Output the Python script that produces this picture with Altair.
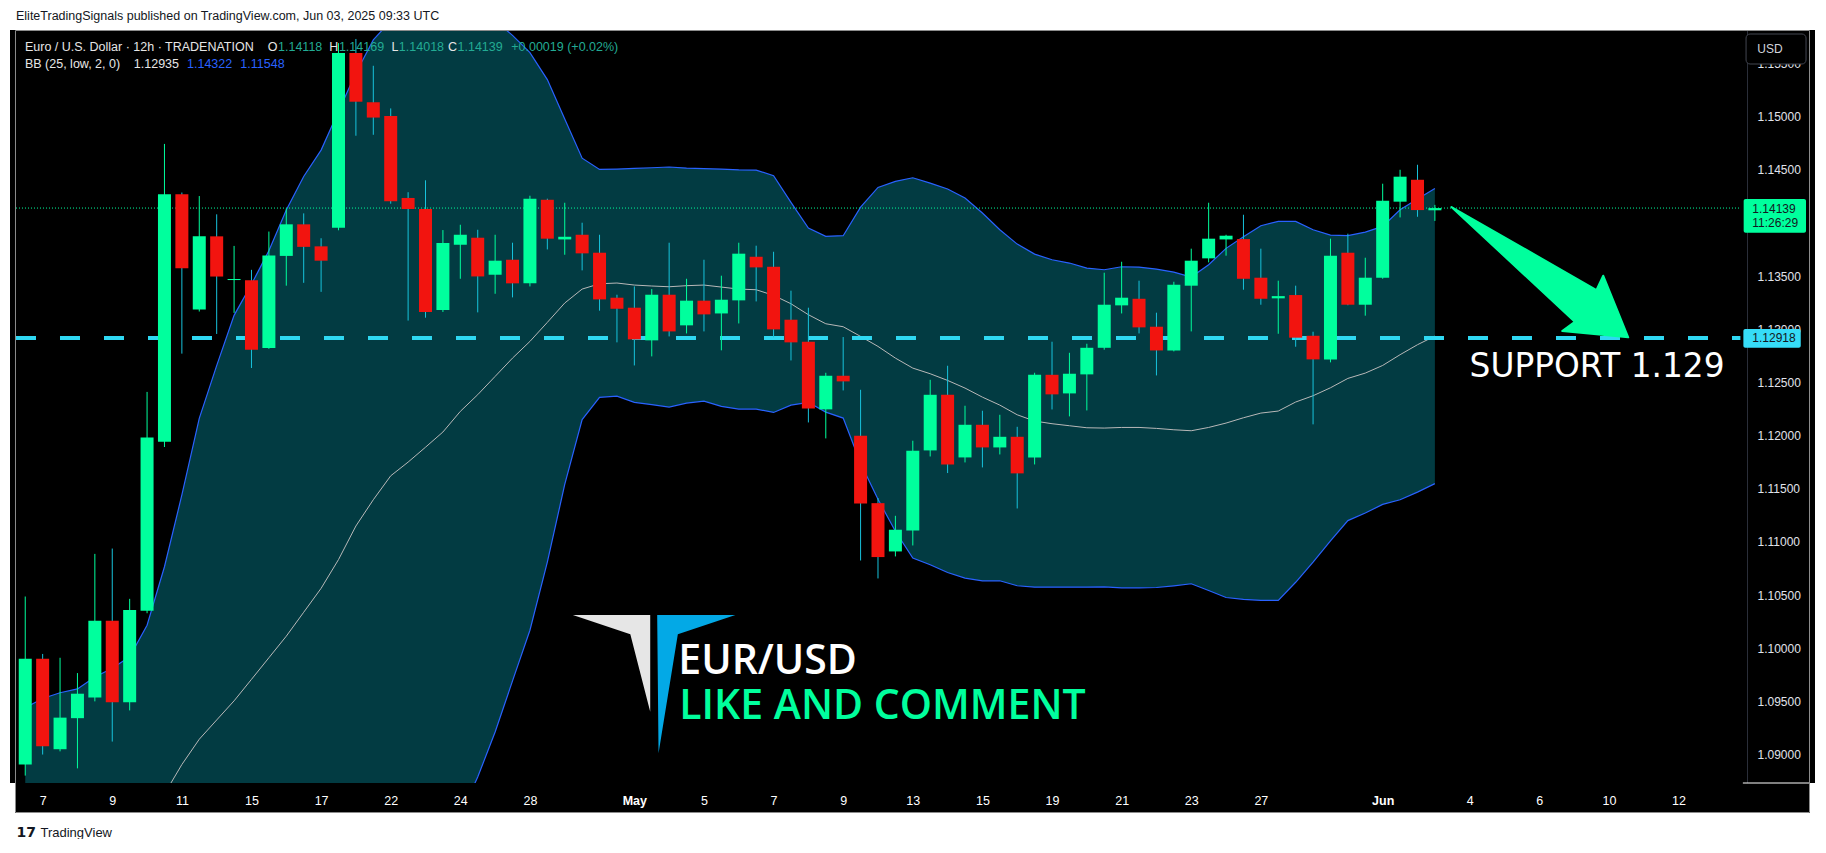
import altair as alt
import pandas as pd

# ----------------------------- data -----------------------------
opens = [
    1.08906, 1.09901, 1.09050, 1.09342, 1.09536, 1.10257, 1.09491, 1.10351, 1.11941, 1.14270,
    1.13184, 1.13873, 1.13462, 1.13459, 1.12824, 1.13689, 1.13986, 1.13779, 1.13954, 1.15597,
    1.15134, 1.15004, 1.14234, 1.14130, 1.13180, 1.13794, 1.13860, 1.13512, 1.13653, 1.13431,
    1.14217, 1.13844, 1.13888, 1.13719, 1.13296, 1.13202, 1.12895, 1.13324, 1.13036, 1.13268,
    1.13148, 1.13271, 1.13681, 1.13587, 1.13089, 1.12882, 1.12246, 1.12562, 1.11998, 1.11364,
    1.10910, 1.11107, 1.11860, 1.12383, 1.11794, 1.12101, 1.11888, 1.11988, 1.11794, 1.12571,
    1.12396, 1.12575, 1.12825, 1.13224, 1.13286, 1.13023, 1.12800, 1.13409, 1.13666, 1.13844,
    1.13847, 1.13484, 1.13290, 1.13321, 1.12938, 1.12716, 1.13719, 1.13230, 1.13484, 1.14199,
    1.14405, 1.14118]
closes = [
    1.09901, 1.09077, 1.09347, 1.09572, 1.10257, 1.09491, 1.10360, 1.11982, 1.14270, 1.13572,
    1.13873, 1.13495, 1.13472, 1.12806, 1.13693, 1.13986, 1.13774, 1.13644, 1.15597, 1.15139,
    1.14990, 1.14202, 1.14130, 1.13162, 1.13810, 1.13888, 1.13496, 1.13644, 1.13431, 1.14227,
    1.13851, 1.13869, 1.13713, 1.13280, 1.13192, 1.12904, 1.13324, 1.12979, 1.13268, 1.13139,
    1.13277, 1.13710, 1.13581, 1.12998, 1.12876, 1.12255, 1.12562, 1.12509, 1.11361, 1.10857,
    1.11114, 1.11857, 1.12383, 1.11728, 1.12101, 1.11888, 1.11988, 1.11644, 1.12571, 1.12387,
    1.12581, 1.12825, 1.13230, 1.13296, 1.13017, 1.12800, 1.13418, 1.13644, 1.13851, 1.13879,
    1.13474, 1.13286, 1.13311, 1.12920, 1.12716, 1.13691, 1.13230, 1.13484, 1.14208, 1.14434,
    1.14120, 1.14139]
highs = [
    1.10486, 1.09946, 1.09910, 1.09766, 1.10887, 1.10937, 1.10464, 1.12410, 1.14742, 1.14285,
    1.14252, 1.14080, 1.13783, 1.13558, 1.13918, 1.14135, 1.14089, 1.13855, 1.15690, 1.15729,
    1.15477, 1.15076, 1.14288, 1.14400, 1.13932, 1.13982, 1.13935, 1.13888, 1.13813, 1.14255,
    1.14227, 1.14189, 1.14001, 1.13888, 1.13324, 1.13402, 1.13377, 1.13813, 1.13474, 1.13653,
    1.13503, 1.13813, 1.13785, 1.13728, 1.13362, 1.13202, 1.12590, 1.12926, 1.12430, 1.11412,
    1.11245, 1.11951, 1.12524, 1.12656, 1.12280, 1.12233, 1.12195, 1.12082, 1.12590, 1.12882,
    1.12778, 1.12863, 1.13531, 1.13634, 1.13456, 1.13155, 1.13446, 1.13757, 1.14189, 1.13888,
    1.14076, 1.13757, 1.13456, 1.13409, 1.12976, 1.13851, 1.13898, 1.13672, 1.14368, 1.14499,
    1.14546, 1.14169]
lows = [
    1.08802, 1.09000, 1.09030, 1.08870, 1.09500, 1.09122, 1.09415, 1.10329, 1.11892, 1.12770,
    1.13166, 1.12955, 1.13153, 1.12635, 1.12815, 1.13409, 1.13436, 1.13351, 1.13930, 1.14819,
    1.14828, 1.14180, 1.13081, 1.13108, 1.13162, 1.13474, 1.13158, 1.13333, 1.13299, 1.13402,
    1.13750, 1.13700, 1.13553, 1.13174, 1.12876, 1.12659, 1.12744, 1.12932, 1.12960, 1.12979,
    1.12801, 1.13054, 1.13261, 1.12923, 1.12706, 1.12123, 1.11973, 1.12424, 1.10825, 1.10656,
    1.10863, 1.10966, 1.11803, 1.11647, 1.11747, 1.11700, 1.11822, 1.11314, 1.11728, 1.12245,
    1.12180, 1.12236, 1.12807, 1.13148, 1.12960, 1.12565, 1.12791, 1.12979, 1.13628, 1.13691,
    1.13371, 1.13230, 1.12957, 1.12835, 1.12105, 1.12688, 1.13225, 1.13127, 1.13474, 1.14051,
    1.14057, 1.14018]

bb_upper = [
    1.09440, 1.09527, 1.09581, 1.09617, 1.09730, 1.09811, 1.09919, 1.10216, 1.10766, 1.11441,
    1.12162, 1.12657, 1.13130, 1.13423, 1.13738, 1.14121, 1.14436, 1.14684, 1.15050, 1.15410,
    1.15720, 1.15900, 1.16000, 1.16050, 1.16050, 1.16020, 1.15980, 1.15900, 1.15763, 1.15601,
    1.15347, 1.14977, 1.14608, 1.14502, 1.14506, 1.14512, 1.14518, 1.14525, 1.14515, 1.14509,
    1.14506, 1.14499, 1.14496, 1.14443, 1.14192, 1.13951, 1.13873, 1.13879, 1.14148, 1.14333,
    1.14390, 1.14424, 1.14374, 1.14318, 1.14233, 1.14092, 1.13935, 1.13800, 1.13706, 1.13653,
    1.13622, 1.13575, 1.13559, 1.13587, 1.13584, 1.13565, 1.13537, 1.13490, 1.13606, 1.13760,
    1.13870, 1.13973, 1.14014, 1.14014, 1.13935, 1.13885, 1.13879, 1.13913, 1.13967, 1.14123,
    1.14224, 1.14322]
bb_basis = [
    1.08000, 1.08030, 1.08080, 1.08130, 1.08200, 1.08280, 1.08380, 1.08500, 1.08630, 1.08906,
    1.09144, 1.09325, 1.09505, 1.09707, 1.09910, 1.10113, 1.10338, 1.10563, 1.10833, 1.11149,
    1.11396, 1.11621, 1.11750, 1.11890, 1.12033, 1.12227, 1.12384, 1.12556, 1.12728, 1.12885,
    1.13064, 1.13246, 1.13377, 1.13427, 1.13434, 1.13415, 1.13406, 1.13399, 1.13409, 1.13415,
    1.13396, 1.13377, 1.13371, 1.13318, 1.13239, 1.13136, 1.13051, 1.13023, 1.12932, 1.12838,
    1.12728, 1.12634, 1.12581, 1.12518, 1.12446, 1.12361, 1.12286, 1.12195, 1.12136, 1.12111,
    1.12092, 1.12073, 1.12070, 1.12076, 1.12076, 1.12067, 1.12054, 1.12045, 1.12076, 1.12117,
    1.12167, 1.12211, 1.12230, 1.12315, 1.12374, 1.12449, 1.12537, 1.12587, 1.12659, 1.12760,
    1.12854, 1.12935]
bb_lower = [
    1.06560, 1.06533, 1.06579, 1.06643, 1.06670, 1.06749, 1.06841, 1.06784, 1.06494, 1.06371,
    1.06126, 1.05993, 1.05880, 1.05991, 1.06082, 1.06105, 1.06240, 1.06442, 1.06616, 1.06888,
    1.07072, 1.07342, 1.07500, 1.07730, 1.08016, 1.08434, 1.08788, 1.09212, 1.09693, 1.10169,
    1.10810, 1.11540, 1.12150, 1.12359, 1.12371, 1.12312, 1.12290, 1.12268, 1.12305, 1.12324,
    1.12274, 1.12249, 1.12249, 1.12217, 1.12286, 1.12312, 1.12220, 1.12164, 1.11740, 1.11400,
    1.11100, 1.10847, 1.10785, 1.10712, 1.10659, 1.10634, 1.10634, 1.10587, 1.10574, 1.10574,
    1.10574, 1.10574, 1.10577, 1.10568, 1.10568, 1.10571, 1.10587, 1.10606, 1.10543, 1.10477,
    1.10460, 1.10450, 1.10450, 1.10620, 1.10810, 1.11010, 1.11200, 1.11271, 1.11352, 1.11396,
    1.11468, 1.11548]

tick_index = [1, 5, 9, 13, 17, 21, 25, 29, 35, 39, 43, 47, 51, 55, 59, 63, 67, 71, 78, 83, 87, 91, 95]
tick_text = ["7", "9", "11", "15", "17", "22", "24", "28", "May", "5", "7", "9", "13", "15",
             "19", "21", "23", "27", "Jun", "4", "6", "10", "12"]
price_ticks = [1.090, 1.095, 1.100, 1.105, 1.110, 1.115, 1.120, 1.125, 1.130, 1.135,
               1.140, 1.145, 1.150, 1.155]
support_level = 1.12918
countdown = "11:26:29"
symbol_name = "Euro / U.S. Dollar · 12h · TRADENATION"
bb_name = "BB (25, low, 2, 0)"
publish_note = "EliteTradingSignals published on TradingView.com, Jun 03, 2025 09:33 UTC"

# ----------------------------- styling / layout -----------------------------
GREEN = "#00ff9d"
RED = "#f2140f"
CYAN_WICK = "#17c3dc"
BAND = "#023b42"
BLUE = "#2962ff"
SUPPORT_C = "#2fd8f2"
TEAL_TXT = "#22ab94"
WHITE_TXT = "#e6e6e6"

W, H = 1805, 753          # panel width, plot height


def X(px):   # page pixel -> candle index units
    return (px - 20.3) / 17.5


def Y(py):   # page pixel -> price units
    return 1.15 - (py - 116.5) / 10634.0


x_scale = alt.Scale(domain=[X(10), X(1815)], nice=False, zero=False)
y_scale = alt.Scale(domain=[Y(783), Y(30)], nice=False, zero=False)

label_expr = " : ".join(f"datum.value == {i} ? '{t}'" for i, t in zip(tick_index, tick_text)) + " : ''"
bold_test = " || ".join(f"datum.value == {i}" for i, t in zip(tick_index, tick_text) if t.isalpha())

x_axis = alt.Axis(values=tick_index, labelExpr=label_expr, title=None, grid=False, domain=False,
                  ticks=False, labelPadding=17, labelBaseline="middle", labelColor="#ffffff",
                  labelFont="Liberation Sans", labelFontSize=12.5,
                  labelFontWeight={"condition": {"test": bold_test, "value": "bold"}, "value": "normal"},
                  labelFlush=False, labelOverlap=False, labelBound=False, zindex=1, orient="bottom")
y_axis = alt.Axis(values=price_ticks, format=".5f", orient="right", offset=-68, title=None,
                  grid=False, ticks=False, domain=True, domainColor="#2a2e39", labelPadding=10,
                  labelAlign="left", labelBaseline="middle", labelColor="#e0e3eb",
                  labelFont="Liberation Sans", labelFontSize=12, labelFlush=False,
                  labelOverlap=False, labelBound=False, zindex=0)


def ex(field):
    return alt.X(field, type="quantitative", scale=x_scale, axis=x_axis)


def ey(field):
    return alt.Y(field, type="quantitative", scale=y_scale, axis=y_axis)


candles = pd.DataFrame({"i": list(range(len(opens))), "open": opens, "high": highs,
                        "low": lows, "close": closes})
bands = pd.DataFrame({"i": list(range(len(bb_upper))), "upper": bb_upper,
                      "basis": bb_basis, "lower": bb_lower})


def box(x1, x2, y1, y2):
    return pd.DataFrame({"x1": [X(x1)], "x2": [X(x2)], "y1": [Y(y1)], "y2": [Y(y2)]})


def at(px, py, **kw):
    d = {"x": [X(px)], "y": [Y(py)]}
    for k, v in kw.items():
        d[k] = [v]
    return pd.DataFrame(d)


def texts(rows, **mark_kw):
    df = pd.DataFrame({"x": [X(r[0]) for r in rows], "y": [Y(r[1]) for r in rows],
                       "t": [r[2] for r in rows], "c": [r[3] for r in rows]})
    return alt.Chart(df).mark_text(**mark_kw).encode(
        x=ex("x"), y=ey("y"), text="t:N", color=alt.Color("c:N", scale=None))


up_cond = "datum.close >= datum.open"

# time-axis band (black strip under the plot)
band_strip = alt.Chart(box(10, 1815, 813, 783)).mark_rect(color="black").encode(
    x=ex("x1"), x2="x2", y=ey("y1"), y2="y2")

bb_area = alt.Chart(bands).mark_area(color=BAND, clip=True, opacity=1).encode(
    x=ex("i"), y=ey("lower"), y2="upper")
bb_mid = alt.Chart(bands).mark_line(color="#b8b8b8", strokeWidth=1, clip=True).encode(
    x=ex("i"), y=ey("basis"))
bb_up = alt.Chart(bands).mark_line(color=BLUE, strokeWidth=1.2, clip=True).encode(
    x=ex("i"), y=ey("upper"))
bb_lo = alt.Chart(bands).mark_line(color=BLUE, strokeWidth=1.2, clip=True).encode(
    x=ex("i"), y=ey("lower"))

support = alt.Chart(pd.DataFrame({"x1": [X(11)], "x2": [X(1745)], "y": [support_level]})).mark_rule(
    color=SUPPORT_C, strokeWidth=4, strokeDash=[20, 24]).encode(x=ex("x1"), x2="x2", y=ey("y"))
price_line = alt.Chart(pd.DataFrame({"x1": [X(11)], "x2": [X(1745)], "y": [closes[-1]]})).mark_rule(
    color=GREEN, strokeWidth=1, strokeDash=[1, 2]).encode(x=ex("x1"), x2="x2", y=ey("y"))

wicks = alt.Chart(candles).mark_rule(strokeWidth=1).encode(
    x=ex("i"), y=ey("low"), y2="high",
    color=alt.condition(up_cond, alt.value(GREEN), alt.value(CYAN_WICK)))
bodies = alt.Chart(candles).mark_bar(size=13, orient="vertical").encode(
    x=ex("i"), y=ey("open"), y2="close",
    color=alt.condition(up_cond, alt.value(GREEN), alt.value(RED)))

# logo (two triangles) + captions
white_path = "M -0.948 -0.812 L -0.038 -0.812 L -0.038 0.326 L -0.272 -0.585 Z"
blue_path = "M 0.044 -0.812 L 0.964 -0.812 L 0.287 -0.585 L 0.06 0.815 Z"
logo_w = alt.Chart(at(652, 684)).mark_point(shape=white_path, filled=True, size=170 * 170,
                                            fill="#e6e6e6", strokeWidth=0, opacity=1).encode(
    x=ex("x"), y=ey("y"))
logo_b = alt.Chart(at(652, 684)).mark_point(shape=blue_path, filled=True, size=170 * 170,
                                            fill="#03a9e6", strokeWidth=0, opacity=1).encode(
    x=ex("x"), y=ey("y"))
txt_pair = alt.Chart(at(677, 674, t="EUR/USD")).mark_text(
    align="left", baseline="alphabetic", font="Open Sans", fontWeight=600, fontSize=41,
    color="#ffffff").encode(x=ex("x"), y=ey("y"), text="t:N")
txt_like = alt.Chart(at(678, 718.7, t="LIKE AND COMMENT")).mark_text(
    align="left", baseline="alphabetic", font="Open Sans", fontWeight=600, fontSize=41,
    color=GREEN).encode(x=ex("x"), y=ey("y"), text="t:N")

# arrow to support + label
arrow_path = "M -0.88 -0.65 L 0.57 0.18 L 0.637 0.037 L 0.887 0.653 L 0.227 0.59 L 0.353 0.497 Z"
arrow = alt.Chart(at(1543, 272)).mark_point(shape=arrow_path, filled=True, size=200 * 200,
                                            fill=GREEN, stroke=GREEN, strokeWidth=2,
                                            strokeJoin="round", opacity=1).encode(
    x=ex("x"), y=ey("y"))
txt_support = alt.Chart(at(1472.7, 377, t=f"SUPPORT {support_level:.3f}")).mark_text(
    align="left", baseline="alphabetic", font="DejaVu Sans", fontSize=32.8,
    color="#ffffff").encode(x=ex("x"), y=ey("y"), text="t:N")

# legend lines in the top-left
chg = closes[-1] - closes[-2]
pct = chg / closes[-2] * 100
hdr_vals = [
    (20, 46.7, symbol_name, WHITE_TXT),
    (274.5, 46.7, f"{opens[-1]:.5f}", TEAL_TXT),
    (335.7, 46.7, f"{highs[-1]:.5f}", TEAL_TXT),
    (396, 46.7, f"{lows[-1]:.5f}", TEAL_TXT),
    (455, 46.7, f"{closes[-1]:.5f}", TEAL_TXT),
    (509, 46.7, f"{chg:+.5f} ({pct:+.2f}%)", TEAL_TXT),
    (20, 64.3, bb_name, WHITE_TXT),
    (129.5, 64.3, f"{bb_basis[-1]:.5f}", WHITE_TXT),
    (183, 64.3, f"{bb_upper[-1]:.5f}", BLUE),
    (236.6, 64.3, f"{bb_lower[-1]:.5f}", BLUE),
]
hdr_keys = [(274.0, 46.7, "O", WHITE_TXT), (335.2, 46.7, "H", WHITE_TXT),
            (395.5, 46.7, "L", WHITE_TXT), (454.5, 46.7, "C", WHITE_TXT)]
header = texts(hdr_vals, align="left", baseline="middle", font="Liberation Sans", fontSize=12.5)
header_keys = texts(hdr_keys, align="right", baseline="middle", font="Liberation Sans", fontSize=12.5)

# price-scale badges
g_box = alt.Chart(box(1748.3, 1811, 199, 232.7)).mark_rect(color=GREEN, cornerRadius=2).encode(
    x=ex("x1"), x2="x2", y=ey("y1"), y2="y2")
c_box = alt.Chart(box(1748, 1805.7, 329, 347.7)).mark_rect(color="#36dcf7", cornerRadius=2).encode(
    x=ex("x1"), x2="x2", y=ey("y1"), y2="y2")
usd_box = alt.Chart(box(1750.7, 1811, 34, 64)).mark_rect(
    fill="black", stroke="#434651", strokeWidth=1, cornerRadius=4).encode(
    x=ex("x1"), x2="x2", y=ey("y1"), y2="y2")
badges = texts([(1757, 209, f"{closes[-1]:.5f}", "#131722"), (1757, 223.3, countdown, "#131722"),
                (1757, 338.3, f"{support_level:.5f}", "#131722"), (1762, 49.2, "USD", "#d1d4dc")],
               align="left", baseline="middle", font="Liberation Sans", fontSize=12)

corner_line = alt.Chart(pd.DataFrame({"x1": [X(1747.5)], "x2": [X(1814)], "y": [Y(783)]})).mark_rule(
    color="#ffffff", strokeWidth=1).encode(x=ex("x1"), x2="x2", y=ey("y"))
border = alt.Chart(box(10.5, 1814.5, 812.5, 30.5)).mark_rect(
    filled=False, stroke="#8c8c8c", strokeWidth=1, fill=None).encode(
    x=ex("x1"), x2="x2", y=ey("y1"), y2="y2")

# texts outside the panel: publisher note on top, TradingView mark at the bottom
note = texts([(11, 15.5, publish_note, "#131722")], align="left", baseline="middle",
             font="Liberation Sans", fontSize=12.5)
footer_logo = texts([(11.5, 833, "17", "#131722")], align="left", baseline="middle",
                    font="DejaVu Sans", fontWeight="bold", fontSize=14)
footer_txt = texts([(35.6, 833, "TradingView", "#131722")], align="left", baseline="middle",
                   font="Liberation Sans", fontSize=13)

chart = alt.layer(
    band_strip, bb_area, bb_mid, bb_up, bb_lo, support, price_line, wicks, bodies,
    logo_w, logo_b, txt_pair, txt_like, arrow, txt_support, header, header_keys,
    g_box, c_box, usd_box, badges, corner_line, border, note, footer_logo, footer_txt
).properties(
    width=W, height=H,
    padding={"left": 2, "top": 22, "right": 3, "bottom": 56},
    autosize=alt.AutoSizeParams(type="none"),
    background="white",
).configure_view(fill="black", stroke=None)

chart.save("out.html", embed_options={"renderer": "svg", "actions": False})
